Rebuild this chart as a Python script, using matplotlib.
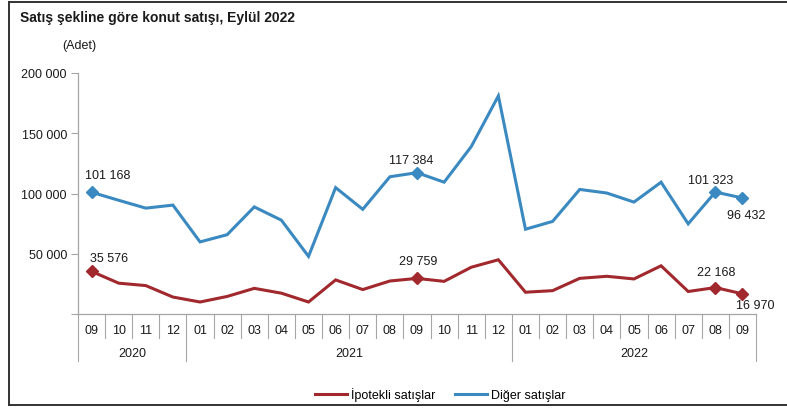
import matplotlib
matplotlib.use("Agg")
import matplotlib.pyplot as plt
import matplotlib.transforms as mtransforms
from matplotlib.lines import Line2D

plt.rcParams["font.family"] = ["Liberation Sans", "DejaVu Sans"]

# Monthly housing sales by sale type, 09/2020 - 09/2022
months = ["09", "10", "11", "12",
          "01", "02", "03", "04", "05", "06", "07", "08", "09", "10", "11", "12",
          "01", "02", "03", "04", "05", "06", "07", "08", "09"]
years = ["2020", "2021", "2022"]
year_spans = [(0, 3), (4, 15), (16, 24)]

ipotekli = [35576, 25800, 23800, 14300, 10200, 14800, 21500, 17500, 10200, 28500,
            20500, 27600, 29759, 27300, 39000, 45200, 18300, 19600, 29800, 31500,
            29300, 40200, 18900, 22168, 16970]
diger = [101168, 94500, 88000, 90500, 60000, 66000, 89000, 78000, 48000, 105000,
         87000, 114000, 117384, 109500, 139000, 181000, 70500, 77000, 103500, 100500,
         93000, 109500, 75000, 101323, 96432]

labeled_idx = [0, 12, 23, 24]
yticks = [0, 50000, 100000, 150000, 200000]

RED = "#a1282d"
BLUE = "#3a89c0"
GRID = "#a6a6a6"
TXT = "#1a1a1a"
FS = 9


def fmt(v):
    return f"{v:,}".replace(",", " ") if v else ""


fig = plt.figure(figsize=(7.87, 4.10), dpi=100)
W, H = 787, 410
ax = fig.add_axes([78 / W, 1 - 315.3 / H, (756 - 78) / W, (315.3 - 74) / H])

x = list(range(len(months)))
ax.plot(x, ipotekli, color=RED, lw=2.2, solid_joinstyle="miter", zorder=3)
ax.plot(x, diger, color=BLUE, lw=2.2, solid_joinstyle="miter", zorder=3)
ax.plot([x[i] for i in labeled_idx], [ipotekli[i] for i in labeled_idx],
        ls="none", marker="D", ms=6, color=RED, zorder=4)
ax.plot([x[i] for i in labeled_idx], [diger[i] for i in labeled_idx],
        ls="none", marker="D", ms=6, color=BLUE, zorder=4)

# value labels (offsets in pixels)
blue_off = {0: (16, 17), 12: (-6, 13), 23: (-4.5, 12.5), 24: (4, -17)}
red_off = {0: (18, 13), 12: (1, 17), 23: (1, 16), 24: (13, -11)}
for i in labeled_idx:
    for series, off in ((diger, blue_off), (ipotekli, red_off)):
        dx, dy = off[i]
        ax.annotate(fmt(series[i]), (x[i], series[i]), xytext=(dx * 0.72, dy * 0.72),
                    textcoords="offset points", ha="center", va="center",
                    fontsize=FS, color=TXT)

ax.set_xlim(-0.5, len(months) - 0.5)
ax.set_ylim(0, 200000)
ax.set_yticks(yticks)
ax.set_yticklabels([fmt(v) for v in yticks])
ax.tick_params(axis="y", length=5, width=0.8, color=GRID, pad=3, labelsize=FS, labelcolor=TXT)

for s in ("top", "right"):
    ax.spines[s].set_visible(False)
for s in ("left", "bottom"):
    ax.spines[s].set_color(GRID)
    ax.spines[s].set_linewidth(0.9)

# category axis: month separators, labels and year groups
ax.set_xticks([])
trans = mtransforms.blended_transform_factory(ax.transData, ax.transAxes)
ax_h = 315.3 - 74
year_bounds = {s - 0.5 for s, _ in year_spans} | {year_spans[-1][1] + 0.5}
for k in range(len(months) + 1):
    pos = k - 0.5
    depth = 47 if pos in year_bounds else 24
    ax.plot([pos, pos], [0, -depth / ax_h], transform=trans, color=GRID,
            lw=0.8, clip_on=False)
for i, m in enumerate(months):
    ax.text(i, -15.4 / ax_h, m, transform=trans, ha="center", va="center",
            fontsize=FS, color=TXT)
for yr, (s, e) in zip(years, year_spans):
    ax.text((s + e) / 2, -38.7 / ax_h, yr, transform=trans, ha="center", va="center",
            fontsize=FS, color=TXT)

# titles
fig.text(20.5 / W, 1 - 18 / H, "Satış şekline göre konut satışı, Eylül 2022",
         fontsize=10, fontweight="bold", ha="left", va="center", color=TXT)
fig.text(62 / W, 1 - 46 / H, "(Adet)", fontsize=FS, ha="left", va="center", color=TXT)

# legend
handles = [Line2D([], [], color=RED, lw=2.2), Line2D([], [], color=BLUE, lw=2.2)]
fig.legend(handles, ["İpotekli satışlar", "Diğer satışlar"], loc="center",
           bbox_to_anchor=(440 / W, 1 - 395 / H), ncol=2, frameon=False,
           fontsize=FS, handlelength=2.6, handletextpad=0.25, columnspacing=1.6)

# outer frame
frame_kw = dict(color="#333333", lw=1.4, transform=fig.transFigure)
fig.add_artist(Line2D([9 / W, 1], [1 - 2.5 / H, 1 - 2.5 / H], **frame_kw))
fig.add_artist(Line2D([9 / W, 1], [1 - 406 / H, 1 - 406 / H], **frame_kw))
fig.add_artist(Line2D([9 / W, 9 / W], [1 - 2.5 / H, 1 - 406 / H], **frame_kw))

fig.savefig("out.png", dpi=100)
